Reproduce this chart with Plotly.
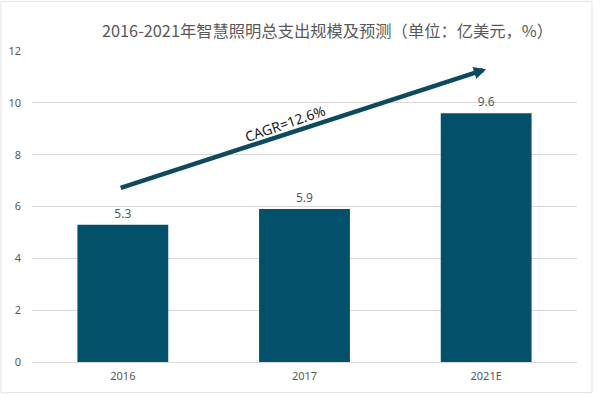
import plotly.graph_objects as go

categories = ["2016", "2017", "2021E"]
values = [5.3, 5.9, 9.6]
y_ticks = [0, 2, 4, 6, 8, 10, 12]
title_text = "2016-2021年智慧照明总支出规模及预测（单位：亿美元，%）"
cagr_text = "CAGR=12.6%"

BAR = "#02506a"
GRAY = "#595959"

fig = go.Figure()
fig.add_trace(go.Bar(
    x=categories, y=values, marker_color=BAR, marker_line_width=0,
    text=[f"{v:.1f}" for v in values], textposition="outside",
    textfont=dict(size=12, color=GRAY, family="Noto Sans"),
    cliponaxis=False, width=0.5, hoverinfo="skip",
))

# CAGR arrow (data coords on categorical axis)
fig.add_annotation(
    x=2.0, y=11.3, ax=-0.02, ay=6.7,
    xref="x", yref="y", axref="x", ayref="y",
    showarrow=True, arrowhead=2, arrowsize=0.55, arrowwidth=4.5,
    arrowcolor="#0c4a5e", text="",
)
fig.add_annotation(
    x=0.89, y=9.22, xref="x", yref="y", text=cagr_text, showarrow=False,
    textangle=-19, font=dict(size=14, color="#1a1a1a", family="Noto Sans"),
)

# Title
fig.add_annotation(
    x=(327 - 32) / 545, y=(362.3 - 30) / 311.6, xref="paper", yref="paper",
    text=title_text, showarrow=False, xanchor="center", yanchor="middle",
    font=dict(size=16.3, color=GRAY, family="Noto Sans CJK SC"),
)

# light frame
fig.add_shape(type="rect", xref="paper", yref="paper",
              x0=(1 - 32) / 545, x1=(592 - 32) / 545,
              y0=(362.3 - 393) / 311.6, y1=(362.3 - 1) / 311.6,
              line=dict(color="#e3e3e3", width=1), layer="below")

fig.update_layout(
    width=600, height=394,
    margin=dict(l=32, r=23, t=51, b=32, autoexpand=False),
    paper_bgcolor="white", plot_bgcolor="white",
    showlegend=False, bargap=0.5,
    font=dict(family="Noto Sans", color=GRAY),
)
fig.update_xaxes(showgrid=False, showline=False, ticks="", automargin=False,
                 tickfont=dict(size=11, color=GRAY), ticklabelstandoff=6)
fig.update_yaxes(range=[0, 12], tickvals=y_ticks, showgrid=True, automargin=False,
                 gridcolor="#d9d9d9", gridwidth=1, zeroline=True,
                 zerolinecolor="#d9d9d9", zerolinewidth=1, showline=False,
                 tickfont=dict(size=11, color=GRAY), ticklabelstandoff=10)

fig.write_html("out.html", config={"displayModeBar": False},
               post_script="document.body.style.margin='0';document.body.style.overflow='hidden';")
